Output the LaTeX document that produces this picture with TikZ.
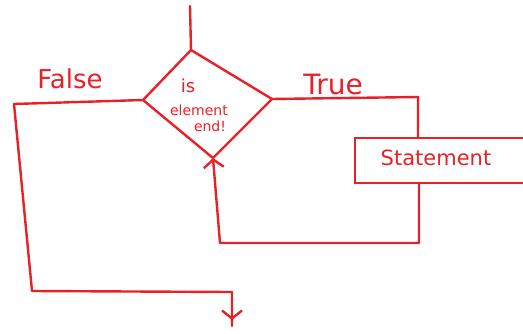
\documentclass[tikz,border=0pt]{standalone}
\usepackage{fontspec}
\setmainfont{DejaVu Sans}
\usetikzlibrary{shapes.geometric,arrows.meta}
\definecolor{pen}{RGB}{232,32,40}
\begin{document}
\begin{tikzpicture}[x=1pt,y=-1pt,
  line/.style={draw=pen,line width=2.4pt,line join=round,line cap=round},
  lbl/.style={text=pen,font=\fontsize{20}{22}\selectfont,inner sep=0pt},
  arr/.style={-{Straight Barb[length=8pt,width=20pt]}}]
\useasboundingbox (0,0) rectangle (523,333);
% diamond corners
\coordinate (dt) at (191,50);
\coordinate (dl) at (143,100);
\coordinate (dr) at (272,99);
\coordinate (db) at (213,158);
\draw[line] (dt) -- (dl) -- (db) -- (dr) -- cycle;
\node[lbl,font=\fontsize{18}{18}\selectfont] (is) at (188,86) {is};
\node[lbl,font=\fontsize{14}{14}\selectfont] (el) at (199,110) {element};
\node[lbl,font=\fontsize{14}{14}\selectfont] (en) at (210,126) {end!};
% entry
\coordinate (start) at (190,6);
\draw[line] (start) -- (dt);
% false branch
\coordinate (f1) at (14,104);
\coordinate (f2) at (32,291);
\coordinate (f3) at (232,292);
\coordinate (fend) at (232,326);
\draw[line] (dl) -- (f1) -- (f2) -- (f3) -- (fend);
\draw[line,arr] (f3) -- (232,320);
\node[lbl,font=\fontsize{26}{26}\selectfont] (false) at (70,79) {False};
% true branch
\coordinate (t1) at (418,97);
\node[draw=pen,line width=2.4pt,minimum width=175pt,minimum height=45pt,anchor=north west,inner sep=0pt] (box) at (354,137) {};
\node[lbl,font=\fontsize{21}{21}\selectfont] (stmt) at (436,158) {Statement};
\draw[line] (dr) -- (t1) -- (t1 |- box.north);
\node[lbl,font=\fontsize{28}{28}\selectfont] (true) at (333,84) {True};
% loop back
\coordinate (r1) at (419,243);
\coordinate (r2) at (220,243);
\draw[line,arr] (box.south -| r1) -- (r1) -- (r2) -- (db);
\end{tikzpicture}
\end{document}
